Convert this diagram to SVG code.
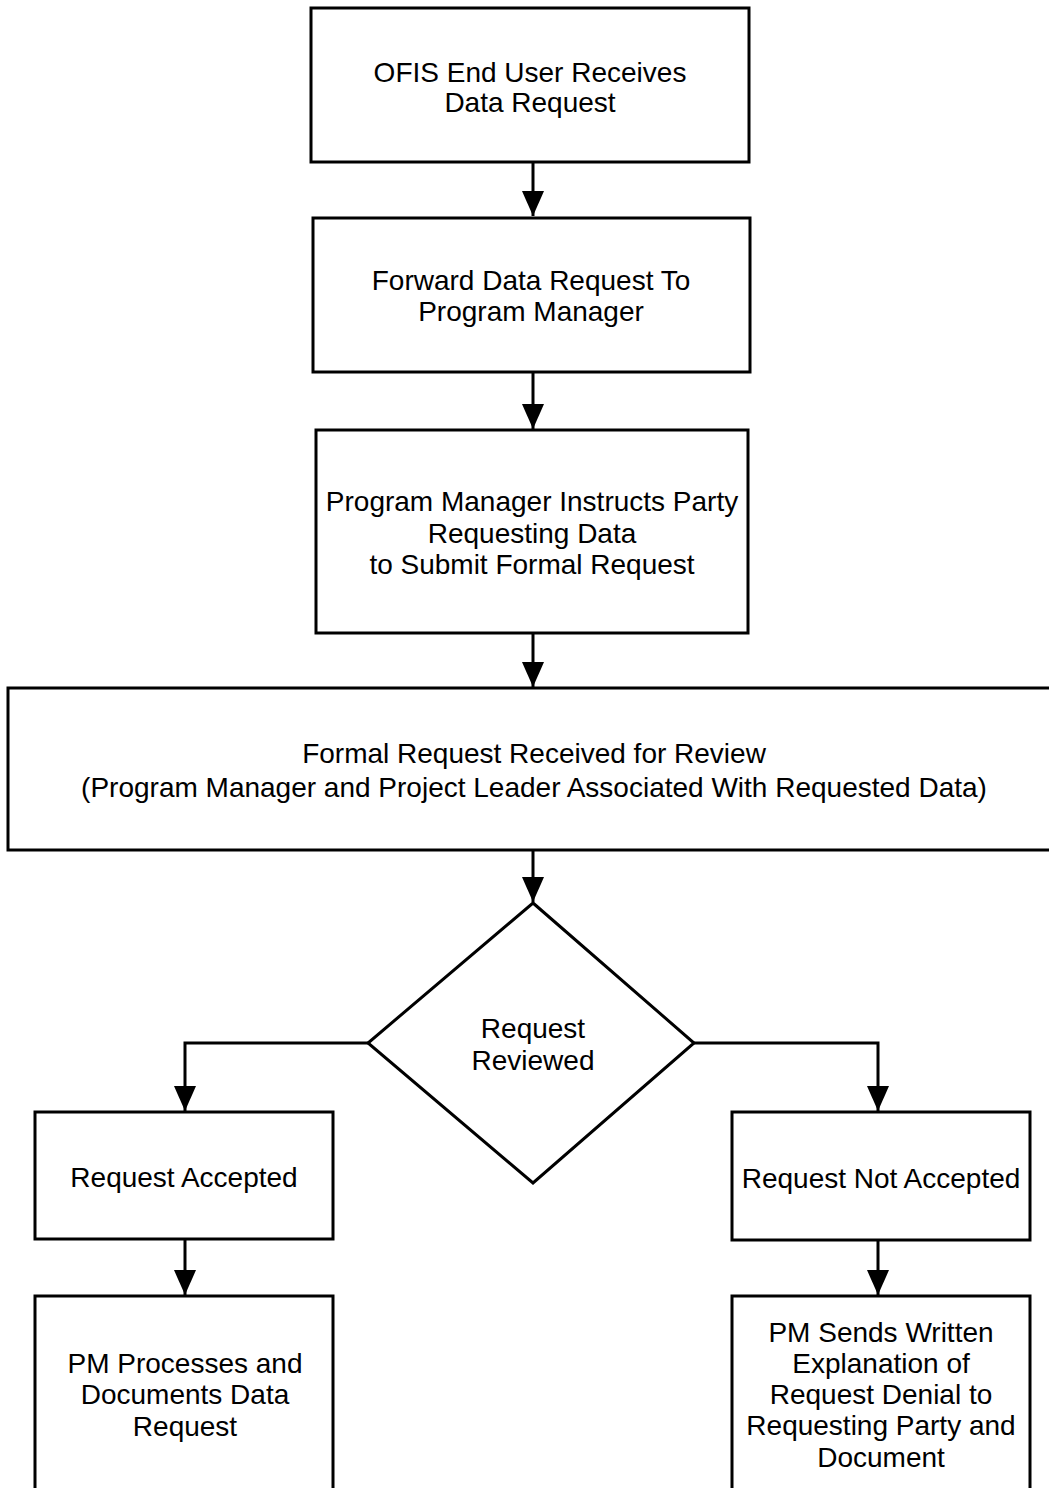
<svg xmlns="http://www.w3.org/2000/svg" width="1049" height="1488" viewBox="0 0 1049 1488">
  <style>
    .box { fill: #ffffff; stroke: #000000; stroke-width: 3; }
    .lbl { font-family: "Liberation Sans", Arial, sans-serif; font-size: 28px; fill: #000000; text-anchor: middle; }
    .wire { fill: none; stroke: #000000; stroke-width: 3; }
  </style>
  <defs>
    <marker id="arrow" viewBox="0 0 25 22" refX="25" refY="11" markerWidth="25" markerHeight="22" markerUnits="userSpaceOnUse" orient="auto">
      <path d="M0,0 L25,11 L0,22 Z" fill="#000000"/>
    </marker>
  </defs>
  <rect width="1049" height="1488" fill="#ffffff"/>

  <g id="connectors">
    <path class="wire" d="M533,162 V216" marker-end="url(#arrow)"/>
    <path class="wire" d="M533,372 V429" marker-end="url(#arrow)"/>
    <path class="wire" d="M533,633 V687" marker-end="url(#arrow)"/>
    <path class="wire" d="M533,850 V902" marker-end="url(#arrow)"/>
    <path class="wire" d="M368,1043 H185 V1111" marker-end="url(#arrow)"/>
    <path class="wire" d="M694,1043 H878 V1111" marker-end="url(#arrow)"/>
    <path class="wire" d="M185,1239 V1295" marker-end="url(#arrow)"/>
    <path class="wire" d="M878,1240 V1295" marker-end="url(#arrow)"/>
  </g>

  <g id="n1">
    <rect class="box" x="311" y="8" width="438" height="154"/>
    <text class="lbl" x="530" y="82">OFIS End User Receives</text>
    <text class="lbl" x="530" y="112">Data Request</text>
  </g>
  <g id="n2">
    <rect class="box" x="313" y="218" width="437" height="154"/>
    <text class="lbl" x="531" y="290">Forward Data Request To</text>
    <text class="lbl" x="531" y="321">Program Manager</text>
  </g>
  <g id="n3">
    <rect class="box" x="316" y="430" width="432" height="203"/>
    <text class="lbl" x="532" y="511">Program Manager Instructs Party</text>
    <text class="lbl" x="532" y="543">Requesting Data</text>
    <text class="lbl" x="532" y="574">to Submit Formal Request</text>
  </g>
  <g id="n4">
    <rect class="box" x="8" y="688" width="1050" height="162"/>
    <text class="lbl" x="534" y="763">Formal Request Received for Review</text>
    <text class="lbl" x="534" y="797">(Program Manager and Project Leader Associated With Requested Data)</text>
  </g>
  <g id="n5">
    <polygon class="box" points="533,903 694,1043 533,1183 368,1043"/>
    <text class="lbl" x="533" y="1038">Request</text>
    <text class="lbl" x="533" y="1070">Reviewed</text>
  </g>
  <g id="n6">
    <rect class="box" x="35" y="1112" width="298" height="127"/>
    <text class="lbl" x="184" y="1187">Request Accepted</text>
  </g>
  <g id="n7">
    <rect class="box" x="35" y="1296" width="298" height="200"/>
    <text class="lbl" x="185" y="1373">PM Processes and</text>
    <text class="lbl" x="185" y="1404">Documents Data</text>
    <text class="lbl" x="185" y="1436">Request</text>
  </g>
  <g id="n8">
    <rect class="box" x="732" y="1112" width="298" height="128"/>
    <text class="lbl" x="881" y="1188">Request Not Accepted</text>
  </g>
  <g id="n9">
    <rect class="box" x="732" y="1296" width="298" height="200"/>
    <text class="lbl" x="881" y="1342">PM Sends Written</text>
    <text class="lbl" x="881" y="1373">Explanation of</text>
    <text class="lbl" x="881" y="1404">Request Denial to</text>
    <text class="lbl" x="881" y="1435">Requesting Party and</text>
    <text class="lbl" x="881" y="1467">Document</text>
  </g>
</svg>
